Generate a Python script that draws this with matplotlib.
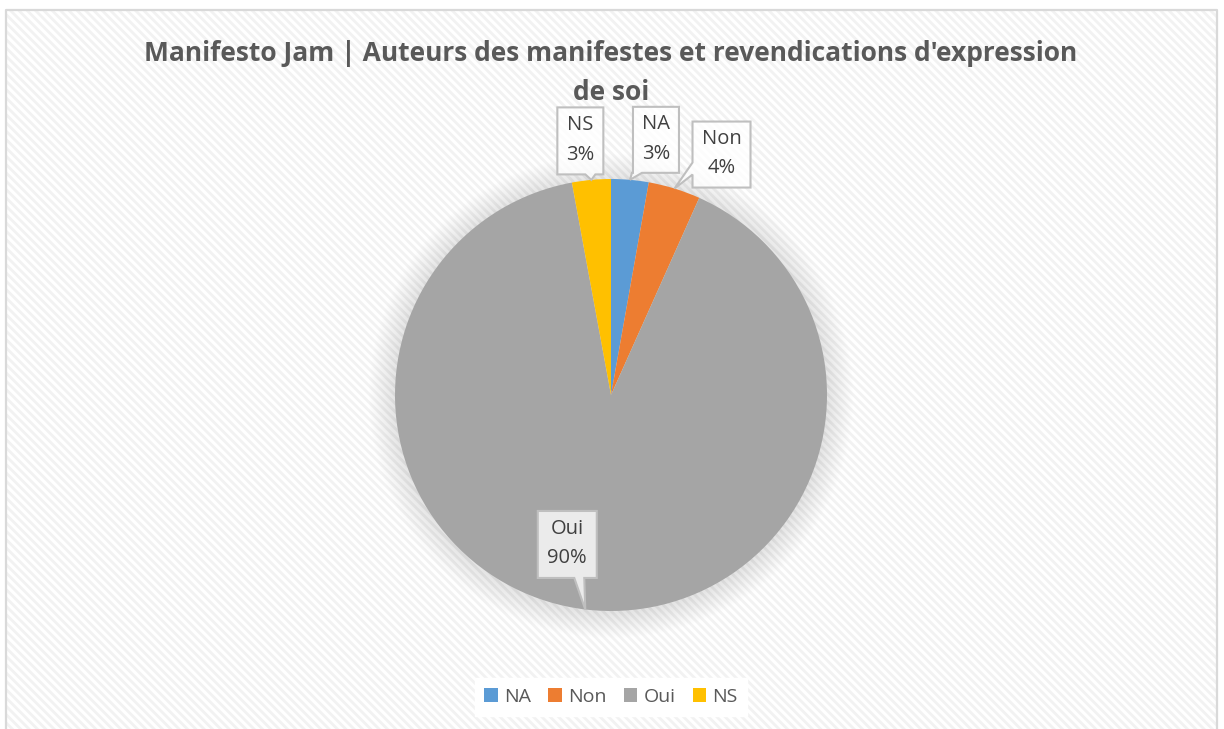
import matplotlib
matplotlib.use("Agg")
import matplotlib.pyplot as plt
from matplotlib.patches import Rectangle, Circle, Polygon, Patch
import numpy as np

plt.rcParams['font.family'] = ['Open Sans', 'DejaVu Sans']
plt.rcParams['hatch.linewidth'] = 2.0

title = "Manifesto Jam | Auteurs des manifestes et revendications d'expression\nde soi"
labels = ['NA', 'Non', 'Oui', 'NS']
values = [2.8, 3.9, 90.4, 2.9]
colors = ['#5B9BD5', '#ED7D31', '#A5A5A5', '#FFC000']

# callout layout: box offset from the pointer tip, box size, pointer side and base offset
box_dx = [26, 47, -18, -11]
box_dy = [40, 34, 65, 39]
box_w = [46, 58, 59, 46]
box_h = [66, 66, 67, 67]
ptr_side = ['bottom', 'left', 'bottom', 'bottom']
ptr_base = [-19, -14, 12, 10]

W, H = 1224, 729
cx, cy, R = 611, H - 395, 216

fig = plt.figure(figsize=(W / 100, H / 100), dpi=100)
ax = fig.add_axes([0, 0, 1, 1])
ax.axis('off')

# striped chart area with a light frame
ax.add_patch(Rectangle((6, 0), 1211, H - 10, facecolor='white', edgecolor='#f2f2f2',
                       hatch='\\\\\\\\', linewidth=0, zorder=0))
ax.plot([6, 6, 1217, 1217], [0, H - 10, H - 10, 0], color='#d9d9d9', lw=1.6, zorder=1)

# soft shadow under the pie
for k in range(26):
    ax.add_patch(Circle((cx, cy - 1), R + 26 - k, facecolor='#808080',
                        edgecolor='none', alpha=0.009, zorder=2))

wedges, _ = ax.pie(values, colors=colors, startangle=90, counterclock=False,
                   center=(cx, cy), radius=R, wedgeprops=dict(linewidth=0), frame=True)
for w in wedges:
    w.set_zorder(3)

total = sum(values)
start = 0.0
for i, v in enumerate(values):
    mid = np.deg2rad((start + v / 2) / total * 360)
    start += v
    tx, ty = cx + R * np.sin(mid), cy + R * np.cos(mid)
    bx, by = tx + box_dx[i], ty + box_dy[i]
    x0, x1 = bx - box_w[i] / 2, bx + box_w[i] / 2
    y0, y1 = by - box_h[i] / 2, by + box_h[i] / 2
    if ptr_side[i] == 'bottom':
        b = bx + ptr_base[i]
        verts = [(x0, y1), (x1, y1), (x1, y0), (b + 5, y0), (tx, ty), (b - 5, y0), (x0, y0)]
    else:
        b = by + ptr_base[i]
        verts = [(x0, y1), (x1, y1), (x1, y0), (x0, y0), (x0, b - 6), (tx, ty), (x0, b + 6)]
    ax.add_patch(Polygon(verts, closed=True, facecolor=(1, 1, 1, 0.78),
                         edgecolor='#bfbfbf', lw=1.5, zorder=5))
    ax.text(bx, by + 1, f"{labels[i]}\n{v / total * 100:.0f}%", ha='center', va='center',
            fontsize=14.5, color='#404040', linespacing=1.65, zorder=6)

ax.text(cx, H - 73, title, ha='center', va='center', fontsize=19, fontweight='bold',
        color='#595959', linespacing=1.55, zorder=6)

handles = [Patch(facecolor=c, edgecolor='none') for c in colors]
leg = ax.legend(handles, labels, loc='center', bbox_to_anchor=(cx / W, (H - 697) / H),
                ncol=4, frameon=True, fancybox=False, edgecolor='white', framealpha=1,
                fontsize=14, handlelength=0.7, handleheight=0.7, handletextpad=0.3,
                columnspacing=0.9, borderpad=0.5)
for t in leg.get_texts():
    t.set_color('#595959')

ax.set_xlim(0, W)
ax.set_ylim(0, H)
ax.set_aspect('auto')

fig.savefig('out.png', dpi=100)
